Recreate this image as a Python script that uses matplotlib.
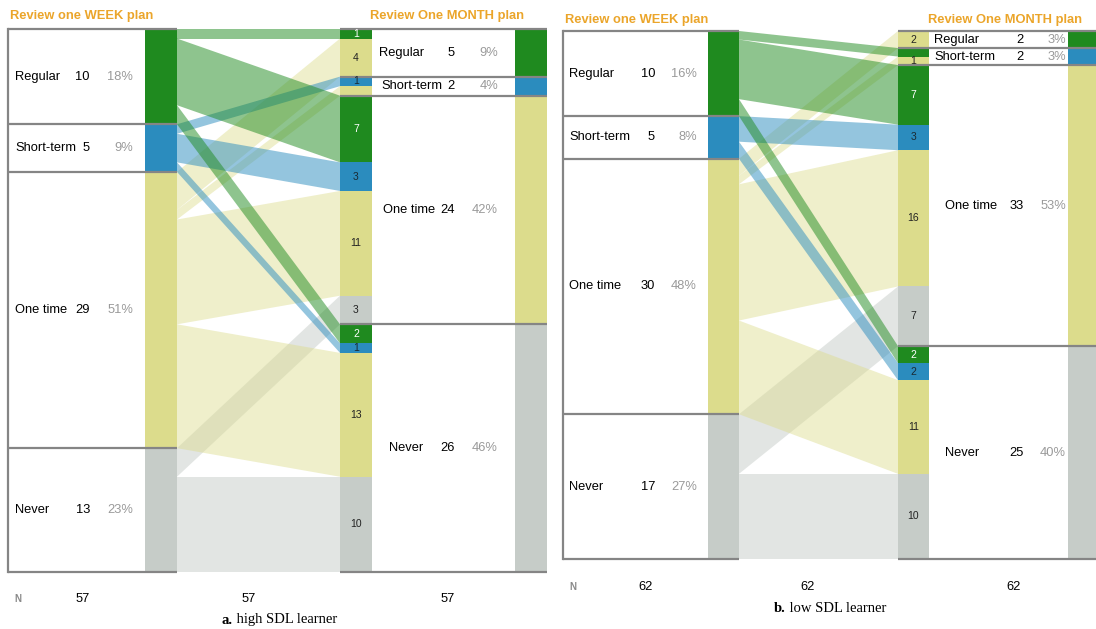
import numpy as np
import matplotlib.pyplot as plt
from matplotlib.patches import Polygon, Rectangle

plt.rcParams['font.family'] = ['Liberation Sans', 'DejaVu Sans']

categories = ['Regular', 'Short-term', 'One time', 'Never']

# rows = review one WEEK plan, columns = review one MONTH plan
flows_high = [[1, 0, 7, 2],
              [0, 1, 3, 1],
              [4, 1, 11, 13],
              [0, 0, 3, 10]]
flows_low = [[0, 1, 7, 2],
             [0, 0, 3, 2],
             [2, 1, 16, 11],
             [0, 0, 7, 10]]

# (week, month) segments whose count is not printed in the middle bar
hidden_high = [(2, 1)]
hidden_low = [(0, 1)]

caption_tags = ['a.', 'b.']
caption_texts = ['high SDL learner', 'low SDL learner']

node_colors = ['#1f8a1f', '#2b8cbe', '#dcdc8c', '#c6ccc8']
flow_alpha = [0.5, 0.5, 0.45, 0.5]
seg_text = ['white', '#1a2a33', '#222222', '#222222']
ORANGE = '#eba52a'
LINE = '#858585'
PCT = '#9a9a9a'

W, H = 1096, 629
fig = plt.figure(figsize=(W / 100, H / 100), dpi=100)


def pt(px):
    return px * 0.72


# layout in pixels, x relative to panel left edge
layouts = [
    dict(left=8, right=547, top=29, bottom=572,
         week_bar=(137, 169), mid_bar=(332, 364), month_bar=(507, 539),
         week_txt=(7, 82, 125), month_txt=(371, 447, 490), indent=[0, 2, 4, 10],
         head_dy=13, month_head=362, n_dy=27, cap_dy=48,
         n_x=(10, 75, 241, 440), cap_split=225),
    dict(left=563, right=1099, top=31, bottom=559,
         week_bar=(145, 176), mid_bar=(335, 366), month_bar=(505, 536),
         week_txt=(6, 92, 134), month_txt=(371, 461, 503), indent=[0, 0, 11, 11],
         head_dy=11, month_head=365, n_dy=28, cap_dy=50,
         n_x=(10, 83, 245, 451), cap_split=223),
]


def draw_panel(flows, hidden, lay, tag, text):
    f = np.array(flows)
    n = f.sum()
    week_tot = f.sum(axis=1)
    month_tot = f.sum(axis=0)
    week_start = np.concatenate([[0], np.cumsum(week_tot)[:-1]])
    month_start = np.concatenate([[0], np.cumsum(month_tot)[:-1]])

    width = lay['right'] - lay['left']
    ax = fig.add_axes([lay['left'] / W, 1 - lay['bottom'] / H,
                       width / W, (lay['bottom'] - lay['top']) / H])
    ax.set_xlim(0, width)
    ax.set_ylim(n, 0)
    ax.axis('off')

    wb0, wb1 = lay['week_bar']
    mb0, mb1 = lay['mid_bar']
    rb0, rb1 = lay['month_bar']

    # flows, greens drawn last so they sit on top
    for i in reversed(range(4)):
        for j in range(4):
            v = f[i, j]
            if v == 0:
                continue
            y0 = week_start[i] + f[i, :j].sum()
            y1 = month_start[j] + f[:i, j].sum()
            poly = Polygon([(wb1, y0), (mb0, y1), (mb0, y1 + v), (wb1, y0 + v)],
                           closed=True, facecolor=node_colors[i],
                           alpha=flow_alpha[i], edgecolor='none', zorder=1)
            ax.add_patch(poly)

    # week bar and month bar
    for k in range(4):
        ax.add_patch(Rectangle((wb0, week_start[k]), wb1 - wb0, week_tot[k],
                               facecolor=node_colors[k], edgecolor='none', zorder=2))
        ax.add_patch(Rectangle((rb0, month_start[k]), rb1 - rb0, month_tot[k],
                               facecolor=node_colors[k], edgecolor='none', zorder=2))

    # middle bar split by week origin
    for j in range(4):
        y = month_start[j]
        for i in range(4):
            v = f[i, j]
            if v == 0:
                continue
            ax.add_patch(Rectangle((mb0, y), mb1 - mb0, v, facecolor=node_colors[i],
                                   edgecolor='none', zorder=2))
            if (i, j) not in hidden:
                ax.text((mb0 + mb1) / 2, y + v / 2, str(v), ha='center', va='center',
                        fontsize=7.5, color=seg_text[i], zorder=4)
            y += v

    # outline lines
    week_edges = np.concatenate([[0], np.cumsum(week_tot)])
    month_edges = np.concatenate([[0], np.cumsum(month_tot)])
    for y in week_edges:
        ax.plot([0, wb1], [y, y], color=LINE, lw=1.6, zorder=3,
                solid_capstyle='butt', clip_on=False)
    ax.plot([0, 0], [0, n], color=LINE, lw=1.6, zorder=3, clip_on=False)
    for y in month_edges:
        ax.plot([mb0, rb1], [y, y], color=LINE, lw=1.6, zorder=3,
                solid_capstyle='butt', clip_on=False)

    # category labels
    lx, nx, px = lay['week_txt']
    for k in range(4):
        yc = week_start[k] + week_tot[k] / 2
        ax.text(lx, yc, categories[k], ha='left', va='center', fontsize=9.3)
        ax.text(nx, yc, str(week_tot[k]), ha='right', va='center', fontsize=9.3)
        ax.text(px, yc, f'{round(100 * week_tot[k] / n)}%', ha='right',
                va='center', fontsize=9.3, color=PCT)
    lx, nx, px = lay['month_txt']
    for k in range(4):
        yc = month_start[k] + month_tot[k] / 2
        ax.text(lx + lay['indent'][k], yc, categories[k], ha='left', va='center',
                fontsize=9.3)
        ax.text(nx, yc, str(month_tot[k]), ha='right', va='center', fontsize=9.3)
        ax.text(px, yc, f'{round(100 * month_tot[k] / n)}%', ha='right',
                va='center', fontsize=9.3, color=PCT)

    # headers
    ax.annotate('Review one WEEK plan', xy=(2, 1), xycoords=('data', 'axes fraction'),
                xytext=(0, pt(lay['head_dy'])), textcoords='offset points',
                ha='left', va='center', fontsize=9.3, fontweight='bold', color=ORANGE)
    ax.annotate('Review One MONTH plan', xy=(lay['month_head'], 1),
                xycoords=('data', 'axes fraction'),
                xytext=(0, pt(lay['head_dy'])), textcoords='offset points',
                ha='left', va='center', fontsize=9.3, fontweight='bold', color=ORANGE)

    # N row
    nx0, nx1, nx2, nx3 = lay['n_x']
    ax.annotate('N', xy=(nx0, 0), xycoords=('data', 'axes fraction'),
                xytext=(0, -pt(lay['n_dy'])), textcoords='offset points',
                ha='center', va='center', fontsize=7, fontweight='bold', color='#8a8a8a')
    for x in (nx1, nx2, nx3):
        ax.annotate(str(n), xy=(x, 0), xycoords=('data', 'axes fraction'),
                    xytext=(0, -pt(lay['n_dy'])), textcoords='offset points',
                    ha='center', va='center', fontsize=9.3)

    # caption
    ax.annotate(tag, xy=(lay['cap_split'], 0), xycoords=('data', 'axes fraction'),
                xytext=(0, -pt(lay['cap_dy'])), textcoords='offset points',
                ha='right', va='center', fontsize=10.5, fontweight='bold',
                family='Liberation Serif')
    ax.annotate(' ' + text, xy=(lay['cap_split'], 0), xycoords=('data', 'axes fraction'),
                xytext=(0, -pt(lay['cap_dy'])), textcoords='offset points',
                ha='left', va='center', fontsize=10.5, family='Liberation Serif')


draw_panel(flows_high, hidden_high, layouts[0], caption_tags[0], caption_texts[0])
draw_panel(flows_low, hidden_low, layouts[1], caption_tags[1], caption_texts[1])

fig.savefig('out.png', dpi=100, facecolor='white')
